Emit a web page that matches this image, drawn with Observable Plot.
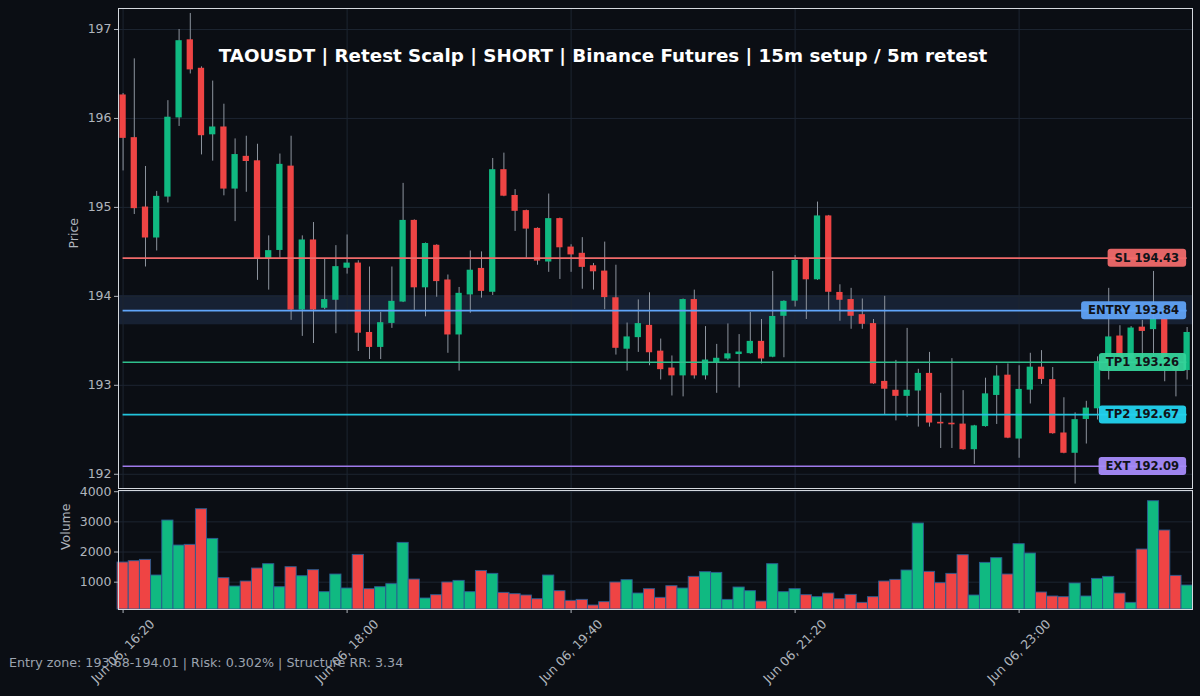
<!DOCTYPE html>
<html><head><meta charset="utf-8">
<script src="https://cdn.jsdelivr.net/npm/d3@7"></script>
<script src="https://cdn.jsdelivr.net/npm/@observablehq/plot@0.6"></script>
<style>
html,body{margin:0;padding:0;background:#0b0e14;}
#root{position:relative;width:1200px;height:696px;background:#0b0e14;overflow:hidden;font-family:"DejaVu Sans",sans-serif;}
#price{position:absolute;left:0;top:0;}
#vol{position:absolute;left:0;top:489px;}
#title{position:absolute;left:3px;width:1200px;top:45px;line-height:22px;text-align:center;color:#ffffff;font-weight:bold;font-size:18.3px;white-space:nowrap;}
#footer{position:absolute;left:9px;top:655px;line-height:16px;color:#9ca3af;font-size:12.7px;white-space:nowrap;}
</style></head>
<body>
<div id="root">
  <div id="price"></div>
  <div id="vol"></div>
  <div id="title">TAOUSDT | Retest Scalp | SHORT | Binance Futures | 15m setup / 5m retest</div>
  <div id="footer">Entry zone: 193.68-194.01 | Risk: 0.302% | Structure RR: 3.34</div>
</div>
<script>
// ---- data ----
const startTime = "2024-06-06T16:20:00Z"; // first 5m candle
const open = [196.26,195.78,195.00,194.66,195.12,196.01,196.88,196.56,195.82,195.90,
195.21,195.57,195.52,194.42,194.52,195.46,193.85,194.63,193.87,193.96,
194.32,194.37,193.59,193.43,193.70,193.94,194.85,194.10,194.57,194.18,
193.57,194.02,194.31,194.05,195.42,195.13,194.96,194.76,194.39,194.87,
194.55,194.48,194.34,194.28,193.98,193.41,193.54,193.67,193.38,193.19,
193.11,193.96,193.11,193.26,193.30,193.35,193.36,193.49,193.32,193.78,
193.95,194.42,194.19,194.90,194.04,193.96,193.79,193.69,193.04,192.94,
192.88,192.94,193.13,192.58,192.57,192.56,192.28,192.54,192.89,193.11,
192.40,192.95,193.20,193.06,192.46,192.24,192.62,192.74,193.26,193.55,
193.30,193.65,193.63,193.74,193.30,193.17];
const high = [196.28,196.67,195.46,195.18,196.20,197.00,197.18,196.58,196.42,196.16,
195.77,195.80,195.71,194.68,195.60,195.80,194.68,194.83,194.42,194.57,
194.69,194.40,194.33,193.82,194.33,195.27,194.86,194.60,194.58,194.24,
194.10,194.51,194.50,195.55,195.61,195.20,194.97,194.77,195.15,194.88,
194.58,194.66,194.37,194.61,194.35,193.70,193.96,194.04,193.52,193.33,
193.97,194.07,193.66,193.46,193.69,193.57,193.82,193.74,194.28,193.95,
194.46,194.43,195.06,194.91,194.13,194.09,193.97,193.74,194.00,193.28,
193.64,193.18,193.37,192.91,193.30,192.94,192.55,193.08,193.22,193.24,
193.22,193.36,193.39,193.20,192.86,192.69,192.82,193.32,194.09,193.67,
193.66,193.73,194.28,193.75,193.33,193.65];
const low = [195.41,194.92,194.33,194.51,195.05,195.91,196.50,195.59,195.52,195.13,
194.84,195.17,194.18,194.07,194.43,193.73,193.55,193.47,193.85,193.58,
194.25,193.38,193.29,193.29,193.64,193.93,193.84,193.77,193.99,193.36,
193.16,193.81,193.98,194.01,195.12,194.73,194.43,194.35,194.27,194.19,
194.27,194.08,194.07,193.85,193.34,193.16,193.37,193.22,193.06,192.88,
192.87,193.07,193.06,192.91,193.28,192.97,193.35,193.24,193.31,193.31,
193.88,193.74,194.18,193.84,193.72,193.63,193.63,193.01,192.67,192.60,
192.64,192.53,192.53,192.29,192.29,192.27,192.11,192.53,192.56,192.40,
192.18,192.79,193.01,192.45,192.23,191.89,192.34,192.61,193.06,193.25,
193.28,193.30,193.30,193.04,192.87,193.06];
const close = [195.78,194.99,194.66,195.12,196.01,196.87,196.55,195.81,195.90,195.21,
195.59,195.52,194.43,194.51,195.48,193.85,194.63,193.85,193.96,194.33,
194.37,193.59,193.43,193.70,193.94,194.85,194.10,194.59,194.17,193.57,
194.03,194.29,194.06,195.42,195.13,194.96,194.76,194.40,194.87,194.55,
194.47,194.33,194.28,193.99,193.42,193.54,193.69,193.37,193.18,193.11,
193.96,193.11,193.28,193.30,193.35,193.37,193.49,193.30,193.77,193.94,
194.40,194.19,194.90,194.05,193.96,193.78,193.69,193.02,192.96,192.88,
192.94,193.13,192.58,192.57,192.56,192.28,192.54,192.90,193.10,192.41,
192.95,193.20,193.07,192.46,192.24,192.61,192.74,193.26,193.54,193.30,
193.64,193.61,193.74,193.30,193.17,193.59];
const volume = [1652,1696,1740,1221,3044,2215,2238,3420,2436,1133,
856,1022,1453,1597,834,1497,1199,1398,669,1254,
790,1906,768,834,934,2304,1088,459,569,989,
1044,669,1373,1276,646,602,558,436,1221,702,
381,414,227,337,989,1066,624,768,481,867,
790,1177,1331,1309,414,823,702,359,1597,669,
768,569,503,624,436,580,315,503,1022,1077,
1387,2945,1343,967,1276,1895,558,1641,1796,1254,
2260,1950,657,525,503,956,525,1110,1177,624,
315,2083,3685,2713,1210,889];

const levelNames  = ["SL", "ENTRY", "TP1", "TP2", "EXT"];
const levelValues = [194.43, 193.84, 193.26, 192.67, 192.09];
const levelLine   = ["#f06a6a", "#60a5fa", "#2fbf8c", "#22c4dc", "#9f7aea"];
const levelBox    = ["#f06a6a", "#5fa2f5", "#34d399", "#22d3ee", "#a78bfa"];
const entryZone = [193.68, 194.01];

const priceTicks = [192, 193, 194, 195, 196, 197];
const volTicks = [1000, 2000, 3000, 4000];
const xTickTimes = ["2024-06-06T16:20:00Z","2024-06-06T18:00:00Z","2024-06-06T19:40:00Z","2024-06-06T21:20:00Z","2024-06-06T23:00:00Z"];
const xTickLabels = ["Jun 06, 16:20","Jun 06, 18:00","Jun 06, 19:40","Jun 06, 21:20","Jun 06, 23:00"];

// ---- build ----
const GREEN = "#10b981", RED = "#ef4444";
const t0 = new Date(startTime);
const times = open.map((_, i) => d3.utcMinute.offset(t0, 5 * i));
const candles = open.map((o, i) => ({t: times[i], o, h: high[i], l: low[i], c: close[i], v: volume[i], up: close[i] >= o}));
const tEnd = times[times.length - 1];
const xDomain = [new Date(+t0 - 2.05 * 60000), new Date(+tEnd + 2.4 * 60000)];
const ticks = xTickTimes.map(s => new Date(s));
const levels = levelNames.map((n, i) => ({name: n, v: levelValues[i], line: levelLine[i], box: levelBox[i], label: `${n} ${levelValues[i].toFixed(2)}`}));
const MIN = 60000;

const gridColor = "#1d2531";
const axisColor = "#b0b5bd";
const frameColor = "#d4d8de";
const common = {
  width: 1200, marginLeft: 118, marginRight: 8,
  style: {background: "transparent", color: axisColor, fontFamily: "DejaVu Sans, sans-serif", fontSize: "12.5px", overflow: "visible"},
  color: {type: "identity"}
};

const pricePlot = Plot.plot({
  ...common,
  height: 489, marginTop: 8, marginBottom: 1,
  x: {type: "utc", domain: xDomain, axis: null},
  y: {domain: [191.84, 197.236]},
  marks: [
    Plot.rect([entryZone], {y1: d => d[0], y2: d => d[1], fill: "#172133"}),
    Plot.gridY(priceTicks, {stroke: gridColor, strokeOpacity: 1}),
    Plot.gridX(ticks, {stroke: gridColor, strokeOpacity: 1}),
    Plot.ruleX(candles, {x: "t", y1: "l", y2: "h", stroke: "#8d949e", strokeWidth: 1}),
    Plot.rect(candles, {
      x1: d => new Date(+d.t - 1.4 * MIN), x2: d => new Date(+d.t + 1.4 * MIN),
      y1: d => Math.min(d.o, d.c) - 0.004, y2: d => Math.max(d.o, d.c) + 0.004,
      fill: d => d.up ? GREEN : RED
    }),
    Plot.ruleY(levels, {y: "v", x1: () => t0, x2: () => tEnd, stroke: "line", strokeWidth: 1.6}),
    Plot.text(levels, {
      x: () => tEnd, y: "v", text: "label",
      textAnchor: "end", dx: -8, fill: "#111318", fontWeight: "bold", fontSize: 11.6
    }),
    Plot.axisY({ticks: priceTicks, tickSize: 4, tickPadding: 3, label: null, color: axisColor, fontSize: 12.5, tickFormat: d => String(d)}),
    Plot.text(["Price"], {frameAnchor: "left", dx: -45, rotate: -90, fill: axisColor, fontSize: 12.5}),
    Plot.frame({stroke: frameColor, strokeWidth: 1})
  ]
});

const volDomain = [94, 4040];
const volPlot = Plot.plot({
  ...common,
  height: 207, marginTop: 1, marginBottom: 87,
  x: {type: "utc", domain: xDomain},
  y: {domain: volDomain},
  marks: [
    Plot.gridY(volTicks, {stroke: gridColor, strokeOpacity: 1}),
    Plot.gridX(ticks, {stroke: gridColor, strokeOpacity: 1}),
    Plot.rect(candles, {
      x1: d => new Date(+d.t - 2.5 * MIN), x2: d => new Date(+d.t + 2.5 * MIN),
      y1: () => volDomain[0], y2: "v",
      fill: d => d.up ? GREEN : RED, stroke: "#2a5d92", strokeWidth: 0.9
    }),
    Plot.axisY({ticks: volTicks, tickSize: 4, tickPadding: 3, label: null, color: axisColor, fontSize: 12.5, tickFormat: d => String(d)}),
    Plot.axisX({ticks: ticks, tickSize: 4, tickFormat: () => "", label: null, color: axisColor}),
    Plot.text(ticks, {x: d => d, frameAnchor: "bottom", dy: 42, rotate: -45, text: (d, i) => xTickLabels[i],
      textAnchor: "middle", lineAnchor: "middle", fill: axisColor, fontSize: 12.5}),
    Plot.text(["Volume"], {frameAnchor: "left", dx: -53, rotate: -90, fill: axisColor, fontSize: 12.5}),
    Plot.frame({stroke: frameColor, strokeWidth: 1})
  ]
});

document.getElementById("price").append(pricePlot);
document.getElementById("vol").append(volPlot);

// label boxes behind level texts
const svgNS = "http://www.w3.org/2000/svg";
const byLabel = new Map(levels.map(l => [l.label, l]));
pricePlot.querySelectorAll("text").forEach(tx => {
  const lv = byLabel.get(tx.textContent.trim());
  if (!lv) return;
  const b = tx.getBBox();
  const r = document.createElementNS(svgNS, "rect");
  const cy = b.y + b.height / 2;
  r.setAttribute("x", b.x - 7);
  r.setAttribute("y", cy - 9);
  r.setAttribute("width", b.width + 14);
  r.setAttribute("height", 18);
  r.setAttribute("rx", 3);
  r.setAttribute("fill", lv.box);
  r.setAttribute("fill-opacity", 0.95);
  r.setAttribute("stroke", "none");
  const tr = tx.getAttribute("transform");
  if (tr) r.setAttribute("transform", tr);
  tx.parentNode.insertBefore(r, tx);
});
</script>
</body></html>
